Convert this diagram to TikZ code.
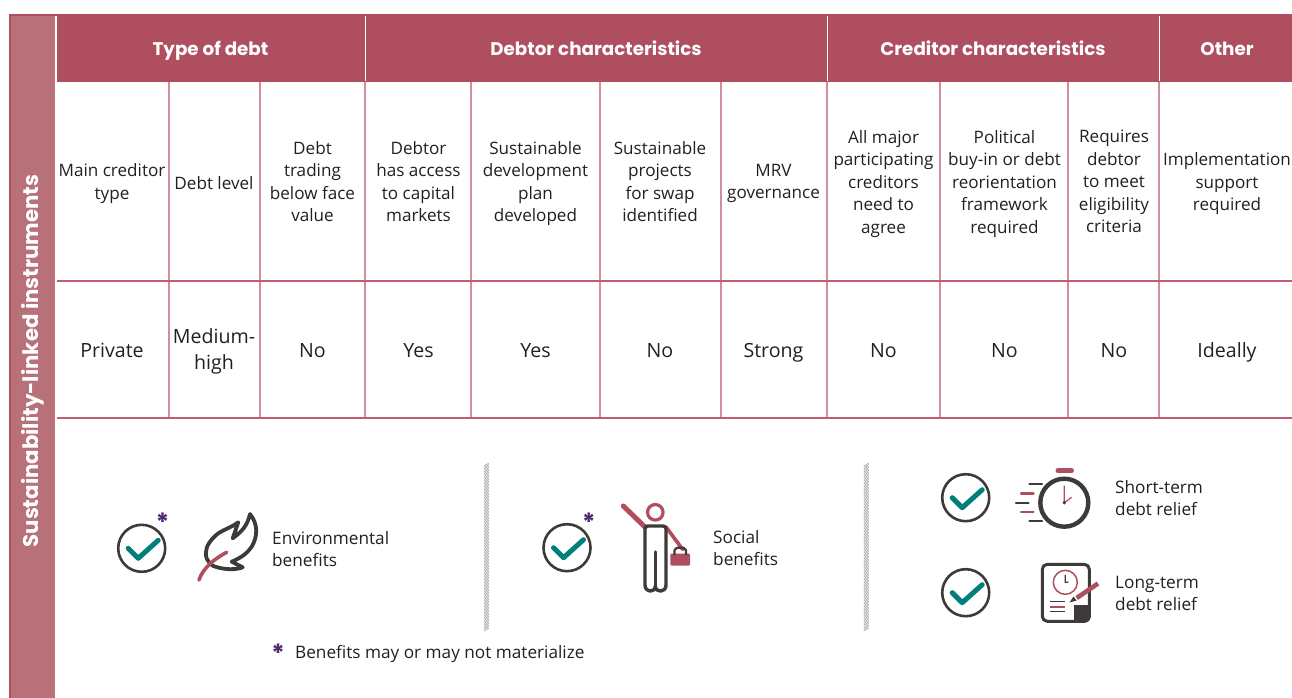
\documentclass[tikz,border=0pt]{standalone}
\usepackage{fontspec}
\setmainfont{Open Sans}
\newfontfamily\hfont{Poppins}
\definecolor{hdr}{HTML}{AE4E5E}
\definecolor{band}{HTML}{B87178}
\definecolor{vline}{HTML}{D08F9C}
\definecolor{hline}{HTML}{BC5F70}
\definecolor{ink}{HTML}{231F20}
\definecolor{icon}{HTML}{3E3A39}
\definecolor{teal}{HTML}{007F7B}
\definecolor{star}{HTML}{4B2A72}
\tikzset{
  x=1pt,y=-1pt,
  strutted/.style={execute at begin node=\strut,execute at end node=\strut},
  headtxt/.style={font=\hfont\fontsize{18.3}{23}\selectfont\bfseries,text=white,inner sep=0pt,strutted,yshift=-2.5pt},
  celltxt/.style={font=\fontsize{17.1}{22.5}\selectfont,text=ink,align=center,inner sep=0pt,strutted,yshift=-3.4pt},
  valtxt/.style={font=\fontsize{19.6}{26}\selectfont,text=ink,align=center,inner sep=0pt,strutted,yshift=-2.4pt},
  sidetxt/.style={font=\fontsize{17.2}{22.3}\selectfont,text=ink,align=left,inner sep=0pt,anchor=west,strutted,yshift=-3pt},
  startxt/.style={font=\hfont\fontsize{25}{25}\selectfont\bfseries,text=star,inner sep=0pt},
  gridv/.style={draw=vline,line width=1.2pt},
  gridh/.style={draw=hline,line width=1.6pt},
  darkline/.style={draw=icon,line width=3pt,line cap=round,line join=round},
  redline/.style={draw=hdr,line width=3pt,line cap=round,line join=round},
  pics/checkicon/.style={code={
    \draw[icon,line width=2.6pt] (0,0) circle[radius=23.5];
    \draw[teal,line width=5pt,line cap=round,line join=round] (-13.5,0) -- (-3.5,10) -- (16.5,-8);
  }},
}
\begin{document}
\begin{tikzpicture}
\useasboundingbox (0,0) rectangle (1292,698);
% bands
\fill[hdr] (9,14) rectangle (1292,82);
\fill[white] (54.5,16) rectangle (56.5,82);
\fill[hdr] (9,14) rectangle (55,698);
\fill[band] (11,16) rectangle (54.5,698);
% grid
\foreach \gx in {169,260,365,471,600,721,827,940,1068,1159}
  \draw[gridv] (\gx,82) -- (\gx,418);
\foreach \gy in {281,418}
  \draw[gridh] (56.5,\gy) -- (1292,\gy);
\foreach \gx in {365,827,1159}
  \draw[white,line width=1pt] (\gx,16) -- (\gx,81);
% band text
\node[font=\hfont\fontsize{21.3}{25}\selectfont\bfseries,text=white,rotate=90,inner sep=0pt] (sidetitle) at (33,361) {Sustainability-linked instruments};
% headers
\node[headtxt] (h1) at (210.5,48) {Type of debt};
\node[headtxt] (h2) at (596,48) {Debtor characteristics};
\node[headtxt] (h3) at (993,48) {Creditor characteristics};
\node[headtxt] (h4) at (1227,48) {Other};
% row 1
\node[celltxt] (c1) at (112,181.5) {Main creditor\\type};
\node[celltxt] (c2) at (214,181.5) {Debt level};
\node[celltxt] (c3) at (312.5,181.5) {Debt\\trading\\below face\\value};
\node[celltxt] (c4) at (418.5,181.5) {Debtor\\has access\\to capital\\markets};
\node[celltxt] (c5) at (535.5,181.5) {Sustainable\\development\\plan\\developed};
\node[celltxt] (c6) at (660,181.5) {Sustainable\\projects\\for swap\\identified};
\node[celltxt] (c7) at (773.5,181.5) {MRV\\governance};
\node[celltxt] (c8) at (883.5,181.5) {All major\\participating\\creditors\\need to\\agree};
\node[celltxt] (c9) at (1004.5,181.5) {Political\\buy-in or debt\\reorientation\\framework\\required};
\node[celltxt] (c10) at (1114,181.5) {Requires\\debtor\\to meet\\eligibility\\criteria};
\node[celltxt] (c11) at (1227,181.5) {Implementation\\support\\required};
% row 2
\node[valtxt] (v1) at (112,350) {Private};
\node[valtxt] (v2) at (214,350.6) {Medium-\\high};
\node[valtxt] (v3) at (312.5,350) {No};
\node[valtxt] (v4) at (418.5,350) {Yes};
\node[valtxt] (v5) at (535.5,350) {Yes};
\node[valtxt] (v6) at (660,350) {No};
\node[valtxt] (v7) at (773.5,350) {Strong};
\node[valtxt] (v8) at (883.5,350) {No};
\node[valtxt] (v9) at (1004.5,350) {No};
\node[valtxt] (v10) at (1114,350) {No};
\node[valtxt] (v11) at (1227,350) {Ideally};
% dividers
\foreach \dx in {486.5,866.3}
  \foreach \dy in {466,467.5,...,632}
    \draw[gray!75,line width=.55pt] (\dx-2.5,\dy) -- (\dx+2.5,\dy-3);
% check icons
\pic (chk1) at (141.7,548.3) {checkicon};
\pic (chk2) at (567,547.7) {checkicon};
\pic (chk3) at (965.7,497.7) {checkicon};
\pic (chk4) at (965.7,592.7) {checkicon};
% stars
\node[startxt] (st1) at (162.5,522) {*};
\node[startxt] (st2) at (588.7,522) {*};
\node[startxt] (st3) at (278,653) {*};
% feather
\draw[darkline,line width=3.8pt] (250,514) .. controls (258,524) and (258,536) .. (251.7,546.7)
  .. controls (248,552) and (243,557) .. (231.7,561.7) -- (242.7,567.3)
  .. controls (236,570) and (224,570) .. (213.3,566)
  .. controls (207,562) and (205,556) .. (206,552)
  .. controls (206,546) and (211,539) .. (218.3,533.3)
  .. controls (225,529) and (232,527) .. (238.3,522.3) -- (232.7,538.3)
  .. controls (241,532) and (247,527) .. (250,514);
\draw[redline,line width=3.6pt] (226.7,552.3) .. controls (214,559) and (203,568) .. (199,580);
% person
\draw[redline,line width=5pt] (623.3,506) -- (645,527);
\draw[redline,line width=3.6pt] (666,527) -- (682.7,549.5);
\draw[hdr,line width=3.2pt] (655.3,512.3) circle[radius=7.8];
\draw[darkline,line width=3.4pt,fill=white] (648,526) -- (663,526) .. controls (665,526) and (666,527) .. (666,529)
  -- (666,585) .. controls (666,593) and (655.3,593) .. (655.3,586)
  .. controls (655.3,593) and (645,593) .. (645,585) -- (645,529)
  .. controls (645,527) and (646,526) .. (648,526) -- cycle;
\draw[darkline,line width=3.6pt] (655.3,552) -- (655.3,586);
\fill[hdr,rounded corners=1pt] (670.3,553.7) rectangle (690,565.5);
\draw[darkline,line width=2.2pt] (674.5,554.5) -- (674.5,550) -- (677,547.8) -- (683.5,547.8) -- (686,550) -- (686,554.5);
% stopwatch
\draw[icon,line width=4.4pt] (1064.3,502.7) circle[radius=24];
\draw[hdr,line width=5pt,line cap=round] (1058,470.7) -- (1071.5,470.7);
\draw[darkline,line width=2.2pt] (1029.5,484.3) -- (1042,484.3);
\draw[redline,line width=2.4pt] (1021,493.3) -- (1033.5,493.3);
\draw[darkline,line width=2.2pt] (1016,502.7) -- (1028.5,502.7);
\draw[redline,line width=2.4pt] (1021,512) -- (1033.5,512);
\draw[darkline,line width=2.2pt] (1029.5,521) -- (1042,521);
\draw[hdr,line width=1.2pt] (1064.3,485.7) -- (1064.3,502.7) -- (1071.7,497.3);
\fill[icon] (1064.3,502.7) circle[radius=1.8];
% document
\draw[icon,line width=3pt,rounded corners=5pt] (1042.3,564.3) rectangle (1089.3,621.3);
\fill[icon] (1074,605) -- (1090.8,605) -- (1090.8,616) arc[start angle=0,end angle=90,radius=6.8] -- (1074,622.8) -- cycle;
\draw[hdr,line width=1.5pt] (1065.3,582.3) circle[radius=12];
\draw[icon,line width=1.2pt] (1065.3,575) -- (1065.3,582.5) -- (1068.5,582);
\draw[icon,line width=1.4pt] (1050,601.7) -- (1065,601.7);
\draw[hdr,line width=1.6pt] (1050,606.7) -- (1065,606.7);
\draw[icon,line width=1.4pt] (1050,611.7) -- (1065,611.7);
\draw[hdr,line width=4.6pt] (1098,583.5) -- (1076.7,598);
\fill[icon] (1069.5,602.5) -- (1073.5,596.5) -- (1076.5,600.5) -- cycle;
% labels
\node[sidetxt] (l1) at (272,549) {Environmental\\benefits};
\node[sidetxt] (l2) at (713,548) {Social\\benefits};
\node[sidetxt] (l3) at (1115,498.5) {Short-term\\debt relief};
\node[sidetxt] (l4) at (1115,593.5) {Long-term\\debt relief};
\node[sidetxt] (note) at (295,651) {Benefits may or may not materialize};
\end{tikzpicture}
\end{document}
